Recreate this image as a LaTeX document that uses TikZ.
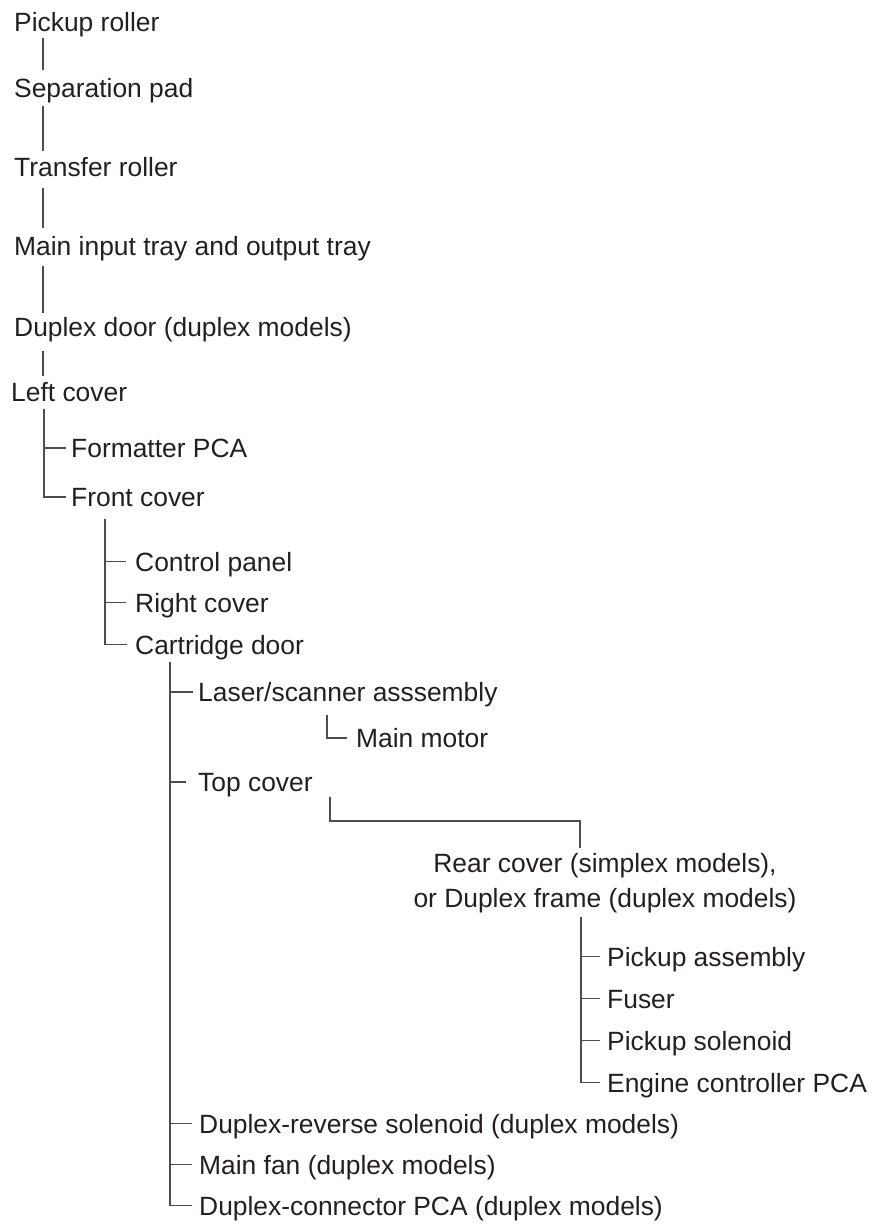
\documentclass[tikz,border=0pt]{standalone}
\usepackage{fontspec}
\setmainfont{Liberation Sans}
\usetikzlibrary{calc}
\definecolor{txtc}{HTML}{231F20}
\definecolor{lnc}{HTML}{4D4D4D}
\begin{document}
\begin{tikzpicture}[x=1pt,y=-1pt,
  tx/.style={inner sep=0pt, anchor=base west, text height=19pt, text depth=0pt,
    font=\fontsize{26.4}{34}\selectfont, text=txtc},
  rear/.style={inner sep=0pt, anchor=north, align=center,
    font=\fontsize{26.4}{35}\selectfont, text=txtc},
  ln/.style={draw=lnc, line width=1.1pt}]
\useasboundingbox (0,0) rectangle (871,1224);
% nodes
\node[tx] (pr) at (14,31.5) {Pickup roller};
\node[tx] (sp) at (14,97.5) {Separation pad};
\node[tx] (tr) at (14,176.5) {Transfer roller};
\node[tx] (mi) at (14,255.5) {Main input tray and output tray};
\node[tx] (dd) at (14,336.5) {Duplex door (duplex models)};
\node[tx] (lc) at (11,401.5) {Left cover};
\node[tx] (fp) at (71,457.5) {Formatter PCA};
\node[tx] (fc) at (71,506.5) {Front cover};
\node[tx] (cp) at (135,571) {Control panel};
\node[tx] (rc) at (135,612) {Right cover};
\node[tx] (cd) at (135,654) {Cartridge door};
\node[tx] (ls) at (198,701.5) {Laser/scanner asssembly};
\node[tx] (mm) at (356,747.5) {Main motor};
\node[tx] (tc) at (198,791.5) {Top cover};
\node[rear] (rf) at (605,853) {Rear cover (simplex models),\\or Duplex frame (duplex models)};
\node[tx] (pa) at (607,966) {Pickup assembly};
\node[tx] (fu) at (607,1008) {Fuser};
\node[tx] (ps) at (607,1050) {Pickup solenoid};
\node[tx] (ec) at (607,1092) {Engine controller PCA};
\node[tx] (dr) at (199,1133) {Duplex-reverse solenoid (duplex models)};
\node[tx] (mf) at (199,1174) {Main fan (duplex models)};
\node[tx] (dc) at (199,1215) {Duplex-connector PCA (duplex models)};
% line x positions
\coordinate (L0) at (43,0);
\coordinate (L1) at (44,0);
\coordinate (L2) at (105,0);
\coordinate (L3) at (170,0);
\coordinate (L4) at (327,0);
\coordinate (L5) at (330,0);
\coordinate (tj) at (580,821);
\coordinate (L7) at (581,0);
% top chain
\draw[ln] ($(pr.south -| L0)+(0,6)$) -- ($(sp.north -| L0)+(0,-8)$);
\draw[ln] ($(sp.south -| L0)+(0,8)$) -- ($(tr.north -| L0)+(0,-6)$);
\draw[ln] ($(tr.south -| L0)+(0,11)$) -- ($(mi.north -| L0)+(0,-8)$);
\draw[ln] ($(mi.south -| L0)+(0,10)$) -- ($(dd.north -| L0)+(0,-4)$);
\draw[ln] ($(dd.south -| L0)+(0,14)$) -- ($(lc.north -| L0)+(0,-6)$);
% left cover group
\draw[ln] ($(lc.south -| L1)+(0,7)$) |- ($(fc.west)+(-5,0)$);
\draw[ln] (fp.west -| L1) -- ($(fp.west)+(-5,0)$);
% front cover group
\draw[ln] ($(fc.south -| L2)+(0,12)$) |- ($(cd.west)+(-8,0)$);
\draw[ln] (cp.west -| L2) -- ($(cp.west)+(-9,0)$);
\draw[ln] (rc.west -| L2) -- ($(rc.west)+(-9,0)$);
% cartridge door group
\draw[ln] ($(cd.south -| L3)+(0,8)$) |- ($(dc.west)+(-7,0)$);
\draw[ln] (ls.west -| L3) -- ($(ls.west)+(-5,0)$);
\draw[ln] (tc.west -| L3) -- ($(tc.west)+(-12,0)$);
\draw[ln] (dr.west -| L3) -- ($(dr.west)+(-7,0)$);
\draw[ln] (mf.west -| L3) -- ($(mf.west)+(-7,0)$);
% main motor
\draw[ln] ($(ls.south -| L4)+(0,13)$) |- ($(mm.west)+(-9,0)$);
% top cover to rear cover
\draw[ln] ($(tc.south -| L5)+(0,5)$) |- (tj) -- ($(rf.north -| tj)+(0,-5)$);
% rear cover group
\draw[ln] ($(rf.south -| L7)+(0,4)$) |- ($(ec.west)+(-7,0)$);
\draw[ln] (pa.west -| L7) -- ($(pa.west)+(-7,0)$);
\draw[ln] (fu.west -| L7) -- ($(fu.west)+(-7,0)$);
\draw[ln] (ps.west -| L7) -- ($(ps.west)+(-7,0)$);
\end{tikzpicture}
\end{document}
